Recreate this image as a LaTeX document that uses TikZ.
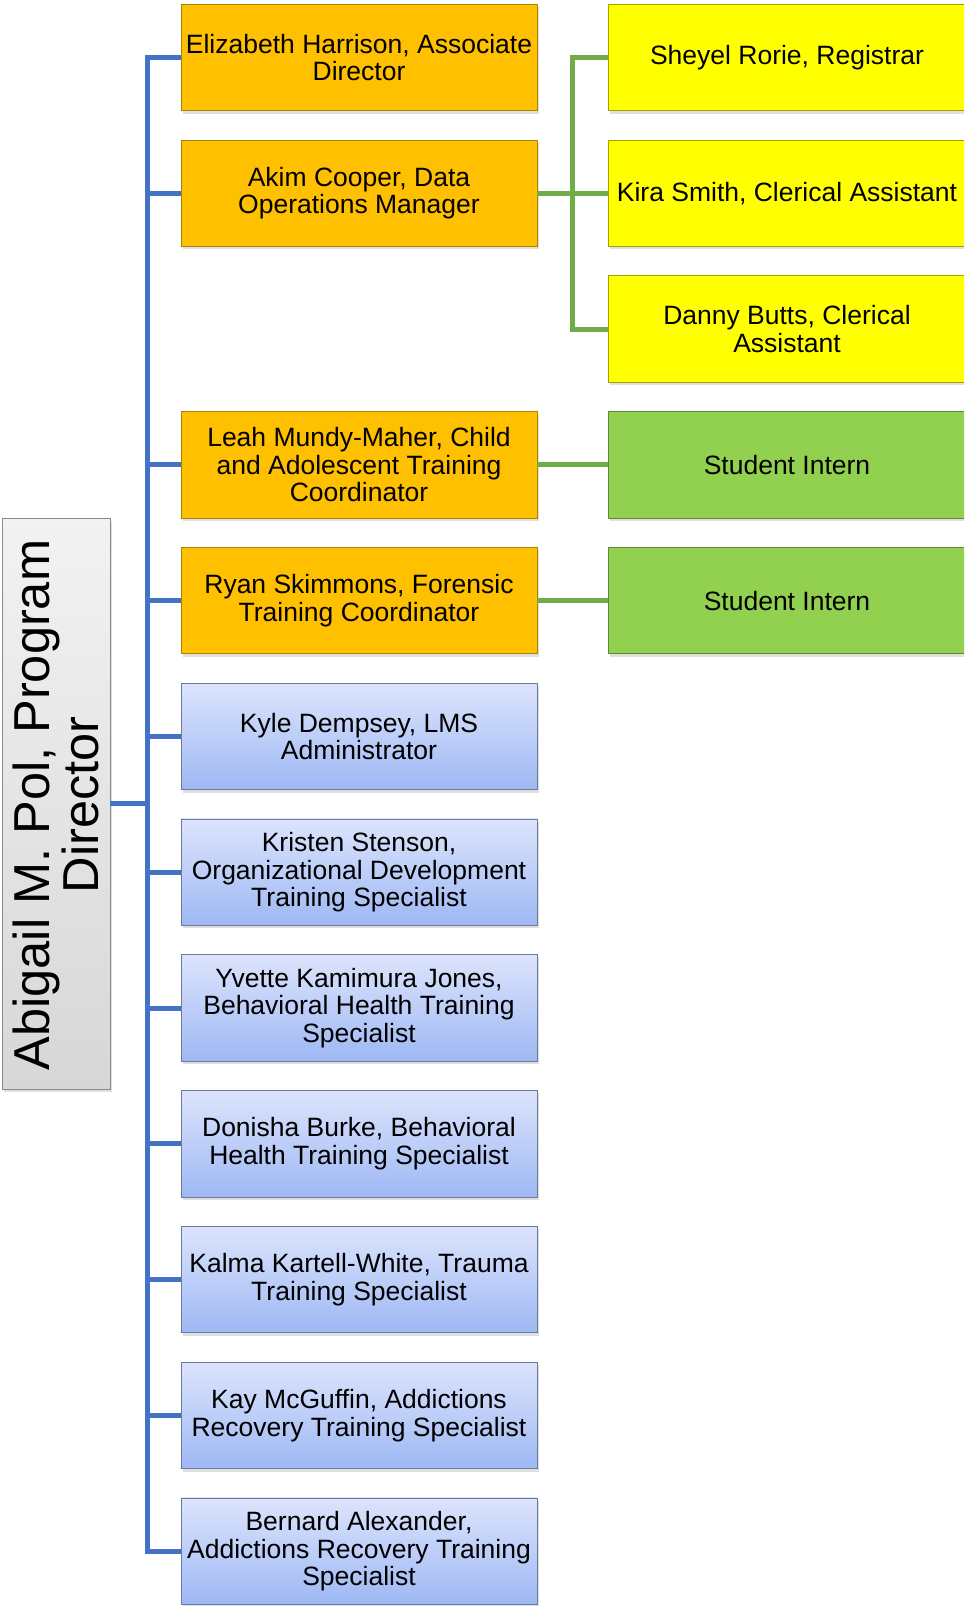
\documentclass[tikz,border=0pt]{standalone}
\usepackage{fontspec}
\setmainfont{Liberation Sans}
\usetikzlibrary{shadows}
\definecolor{orgfill}{HTML}{FFC000}
\definecolor{orgdraw}{HTML}{A88400}
\definecolor{yelfill}{HTML}{FFFF00}
\definecolor{yeldraw}{HTML}{A3A300}
\definecolor{grnfill}{HTML}{92D050}
\definecolor{grndraw}{HTML}{5E8A33}
\definecolor{bluetop}{HTML}{DCE4FC}
\definecolor{bluebot}{HTML}{9EB8F4}
\definecolor{bluedraw}{HTML}{6A7A98}
\definecolor{graytop}{HTML}{F2F2F2}
\definecolor{graybot}{HTML}{D7D7D7}
\definecolor{graydraw}{HTML}{8A8A8A}
\definecolor{blueline}{HTML}{4472C4}
\definecolor{greenline}{HTML}{70AD47}
\begin{document}
\begin{tikzpicture}[x=1pt,y=-1pt,
  basebox/.style={minimum width=356pt, minimum height=106.5pt, inner sep=0pt, align=center,
    font=\fontsize{26.5}{27.7}\selectfont, line width=0.8pt,
    drop shadow={shadow xshift=2pt, shadow yshift=-3pt, opacity=0.25}},
  orgbox/.style={basebox, fill=orgfill, draw=orgdraw},
  yelbox/.style={basebox, minimum width=358pt, fill=yelfill, draw=yeldraw},
  grnbox/.style={basebox, minimum width=358pt, fill=grnfill, draw=grndraw},
  bluebox/.style={basebox, top color=bluetop, bottom color=bluebot, draw=bluedraw},
  rootbox/.style={minimum width=108pt, minimum height=571pt, inner sep=0pt, line width=0.8pt,
    top color=graytop, bottom color=graybot, draw=graydraw,
    drop shadow={shadow xshift=2pt, shadow yshift=-3pt, opacity=0.25}},
  roottext/.style={rotate=90, align=center, inner sep=0pt, font=\fontsize{50.5}{49}\selectfont},
  bline/.style={draw=blueline, line width=5pt},
  gline/.style={draw=greenline, line width=5pt}
]
\useasboundingbox (0,0) rectangle (964,1606);
\clip (0,0) rectangle (964,1606);

% root
\node[rootbox] (root) at (56,803.5) {};
\node[roottext] (rootlabel) at (56,805) {Abigail M. Pol, Program\\Director};

% middle column
\node[orgbox] (m1) at (359,57.4) {Elizabeth Harrison, Associate\\Director};
\node[orgbox] (m2) at (359,193.2) {Akim Cooper, Data\\Operations Manager};
\node[orgbox] (m3) at (359,464.8) {Leah Mundy-Maher, Child\\and Adolescent Training\\Coordinator};
\node[orgbox] (m4) at (359,600.6) {Ryan Skimmons, Forensic\\Training Coordinator};
\node[bluebox] (m5) at (359,736.4) {Kyle Dempsey, LMS\\Administrator};
\node[bluebox] (m6) at (359,872.2) {Kristen Stenson,\\Organizational Development\\Training Specialist};
\node[bluebox] (m7) at (359,1008.0) {Yvette Kamimura Jones,\\Behavioral Health Training\\Specialist};
\node[bluebox] (m8) at (359,1143.8) {Donisha Burke, Behavioral\\Health Training Specialist};
\node[bluebox] (m9) at (359,1279.6) {Kalma Kartell-White, Trauma\\Training Specialist};
\node[bluebox] (m10) at (359,1415.4) {Kay McGuffin, Addictions\\Recovery Training Specialist};
\node[bluebox] (m11) at (359,1551.2) {Bernard Alexander,\\Addictions Recovery Training\\Specialist};

% right column
\node[yelbox] (r1) at (787,57.4) {Sheyel Rorie, Registrar};
\node[yelbox] (r2) at (787,193.2) {Kira Smith, Clerical Assistant};
\node[yelbox] (r3) at (787,329.0) {Danny Butts, Clerical\\Assistant};
\node[grnbox] (s1) at (787,464.8) {Student Intern};
\node[grnbox] (s2) at (787,600.6) {Student Intern};

% blue connectors
\coordinate (trunk) at (147,803.5);
\foreach \m in {m1,m2,m3,m4,m5,m6,m7,m8,m9,m10,m11}{
  \draw[bline] (root.east) -- (trunk) |- (\m.west);
}

% green connectors
\coordinate (gtrunk) at (572,193.2);
\draw[gline] (m2.east) -- (r2.west);
\draw[gline] (gtrunk) |- (r1.west);
\draw[gline] (gtrunk) |- (r3.west);
\draw[gline] (m3.east) -- (s1.west);
\draw[gline] (m4.east) -- (s2.west);
\end{tikzpicture}
\end{document}
